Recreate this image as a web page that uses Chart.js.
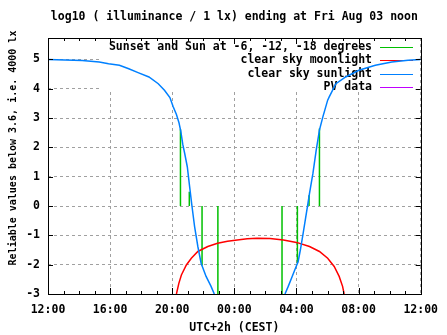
<!DOCTYPE html>
<html>
<head>
<meta charset="utf-8">
<script src="https://cdn.jsdelivr.net/npm/chart.js@4/dist/chart.umd.min.js"></script>
<style>
  body { margin: 0; background: #fff; }
  canvas { display: block; }
</style>
</head>
<body>
<canvas id="c" width="447" height="335"></canvas>
<script>
// hours since previous noon (12 = 12:00, 24 = 00:00, 36 = 12:00 next day)
const sunHours = [12, 14.2, 15.3, 15.9, 16.6, 17.2, 17.8, 18.5, 19.1, 19.5, 19.85, 20.05, 20.27, 20.43, 20.55, 20.68, 20.8, 20.97, 21.12, 21.27, 21.44, 21.65, 21.86, 22.18, 22.5, 22.71,
  25,
  27.26, 27.47, 27.68, 27.89, 28.11, 28.25, 28.43, 28.59, 28.74, 28.84, 29.06, 29.27, 29.48, 29.7, 30.01, 30.11, 30.54, 31.17, 32.02, 33.08, 34.14, 35.19, 36];
const sunValues = [5.0, 4.96, 4.91, 4.85, 4.8, 4.68, 4.55, 4.4, 4.17, 3.95, 3.7, 3.4, 3.12, 2.85, 2.55, 2.1, 1.8, 1.34, 0.66, 0.0, -0.7, -1.38, -1.95, -2.4, -2.74, -3.0,
  null,
  -3.0, -2.74, -2.46, -2.18, -1.89, -1.5, -0.93, -0.4, 0.09, 0.43, 1.11, 1.9, 2.59, 3.04, 3.61, 3.72, 4.17, 4.4, 4.63, 4.8, 4.91, 4.97, 5.0];

const moonHours = [20.27, 20.43, 20.59, 20.91, 21.23, 21.65, 22.29, 22.92, 23.56, 24.19, 24.83, 25.46, 26.3, 27.16, 28.0, 28.84, 29.48, 30.01, 30.43, 30.75, 30.97, 31.07];
const moonValues = [-3.0, -2.63, -2.35, -2.01, -1.78, -1.55, -1.38, -1.27, -1.2, -1.16, -1.12, -1.1, -1.11, -1.16, -1.24, -1.38, -1.55, -1.78, -2.06, -2.4, -2.74, -3.0];

// sunset / sun at -6, -12, -18 degrees (evening and morning): bar from 0 to value
const sunsetHours = [20.53, 21.1, 21.92, 22.94, 27.07, 28.06, 28.81, 29.48];
const sunsetValues = [2.62, 0.49, -2.03, -3.2, -3.2, -1.95, 0.37, 2.64];

const pvHours = [];
const pvValues = [];

const xTicks = [12, 16, 20, 24, 28, 32, 36];
const yTicks = [-3, -2, -1, 0, 1, 2, 3, 4, 5];

const titleText = 'log10 ( illuminance / 1 lx) ending at Fri Aug 03 noon';
const yTitle = 'Reliable values below 3.6, i.e. 4000 lx';
const seriesNames = ['Sunset and Sun at -6, -12, -18 degrees', 'clear sky moonlight', 'clear sky sunlight', 'PV data'];
const seriesColors = ['#00c000', '#ff0000', '#0080ff', '#c000ff'];

const toXY = (xs, ys) => xs.map((x, i) => ({ x: x, y: ys[i] }));
const sunsetData = [];
sunsetHours.forEach((h, i) => {
  sunsetData.push({ x: h, y: 0 }, { x: h, y: sunsetValues[i] }, { x: h, y: null });
});

const FONT = 'DejaVu Sans Mono';
Chart.defaults.font.family = FONT;
Chart.defaults.font.size = 11.5;
Chart.defaults.font.weight = 'bold';
Chart.defaults.color = '#000';

const hh = v => String(v % 24).padStart(2, '0') + ':00';

// gnuplot-like decorations: key box, frame, inside ticks, title, rotated y label
const deco = {
  id: 'deco',
  beforeDatasetsDraw(chart) {
    const ctx = chart.ctx;
    ctx.save();
    ctx.fillStyle = '#fff';
    ctx.fillRect(99, 39, 320, 53);
    ctx.font = 'bold 11.5px ' + FONT;
    ctx.textAlign = 'right';
    ctx.textBaseline = 'middle';
    seriesNames.forEach((name, i) => {
      const y = 47 + i * 13.3;
      ctx.fillStyle = '#000';
      ctx.fillText(name, 372, y);
      ctx.strokeStyle = seriesColors[i];
      ctx.lineWidth = 1;
      ctx.beginPath();
      ctx.moveTo(380, Math.round(y) + 0.5);
      ctx.lineTo(413, Math.round(y) + 0.5);
      ctx.stroke();
    });
    ctx.restore();
  },
  afterDatasetsDraw(chart) {
    const { ctx, chartArea: a, scales } = chart;
    ctx.save();
    ctx.strokeStyle = '#000';
    ctx.lineWidth = 1;
    ctx.beginPath();
    for (let h = 12; h <= 36; h++) {
      const x = Math.round(scales.x.getPixelForValue(h)) + 0.5;
      const len = h % 4 === 0 ? 6 : 3;
      ctx.moveTo(x, a.bottom); ctx.lineTo(x, a.bottom - len);
      ctx.moveTo(x, a.top); ctx.lineTo(x, a.top + len);
    }
    yTicks.forEach(v => {
      const y = Math.round(scales.y.getPixelForValue(v)) + 0.5;
      ctx.moveTo(a.left, y); ctx.lineTo(a.left + 5, y);
      ctx.moveTo(a.right, y); ctx.lineTo(a.right - 5, y);
    });
    ctx.stroke();
    ctx.strokeRect(Math.round(a.left) + 0.5, Math.round(a.top) + 0.5, Math.round(a.right - a.left), Math.round(a.bottom - a.top));
    ctx.restore();
  },
  afterDraw(chart) {
    const { ctx, chartArea: a } = chart;
    ctx.save();
    ctx.fillStyle = '#000';
    ctx.font = 'bold 11.5px ' + FONT;
    ctx.textAlign = 'center';
    ctx.textBaseline = 'middle';
    ctx.fillText(titleText, (a.left + a.right) / 2, 17);
    ctx.translate(13, 148);
    ctx.rotate(-Math.PI / 2);
    ctx.font = 'bold 10px ' + FONT;
    ctx.fillText(yTitle, 0, 0);
    ctx.restore();
  }
};

new Chart(document.getElementById('c'), {
  type: 'line',
  data: {
    datasets: [
      { label: seriesNames[0], data: sunsetData, borderColor: seriesColors[0], borderWidth: 1.5, order: 3 },
      { label: seriesNames[1], data: toXY(moonHours, moonValues), borderColor: seriesColors[1], borderWidth: 1.5, order: 2 },
      { label: seriesNames[2], data: toXY(sunHours, sunValues), borderColor: seriesColors[2], borderWidth: 1.5, order: 1 },
      { label: seriesNames[3], data: toXY(pvHours, pvValues), borderColor: seriesColors[3], borderWidth: 1.5, order: 0 }
    ]
  },
  options: {
    responsive: false,
    animation: false,
    devicePixelRatio: 1,
    layout: { padding: { top: 38, right: 21, bottom: 0, left: 0 } },
    elements: { point: { radius: 0 }, line: { tension: 0, fill: false } },
    plugins: {
      legend: { display: false },
      tooltip: { enabled: false },
      title: { display: false }
    },
    scales: {
      x: {
        type: 'linear', min: 12, max: 36,
        afterBuildTicks: s => { s.ticks = xTicks.map(v => ({ value: v })); },
        afterFit: s => { s.height = 41; },
        ticks: { callback: hh, padding: 9, maxRotation: 0, autoSkip: false },
        grid: { color: '#a0a0a0', lineWidth: 1, drawTicks: false },
        border: { display: false, dash: [3, 3] },
        title: { display: true, text: 'UTC+2h (CEST)', padding: { top: 0, bottom: 0 } }
      },
      y: {
        min: -3, max: 5.73,
        afterBuildTicks: s => { s.ticks = yTicks.map(v => ({ value: v })); },
        afterFit: s => { s.width = 48; },
        ticks: { padding: 8 },
        grid: { color: '#a0a0a0', lineWidth: 1, drawTicks: false },
        border: { display: false, dash: [3, 3] }
      }
    }
  },
  plugins: [deco]
});
</script>
</body>
</html>
